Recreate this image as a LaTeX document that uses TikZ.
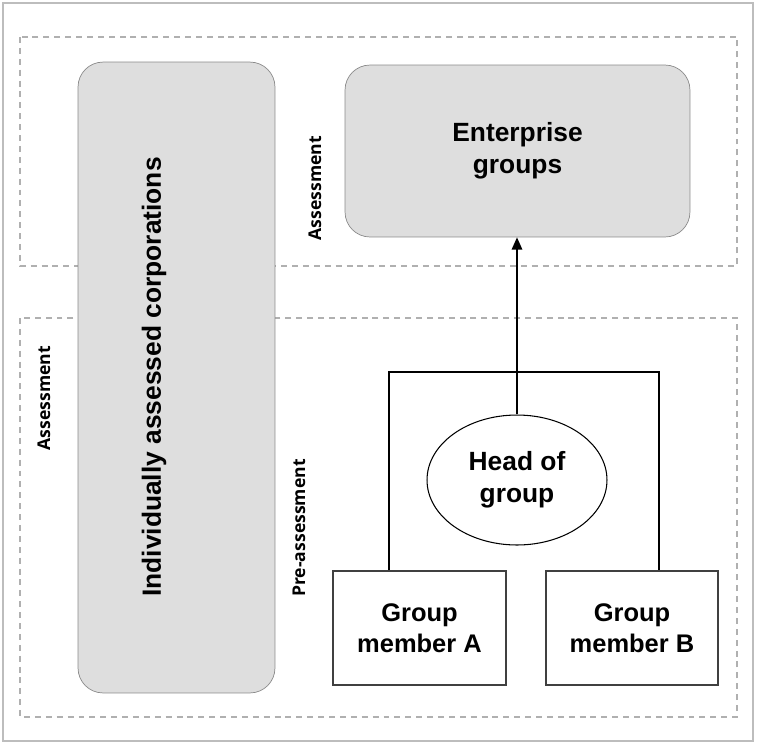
\documentclass[tikz,border=0pt]{standalone}
\usepackage{fontspec}
\setmainfont{Liberation Sans}
\newfontfamily\tagfont{Open Sans}
\usetikzlibrary{shapes.geometric}
\usetikzlibrary{arrows.meta}
\definecolor{framegray}{HTML}{BDBDBD}
\definecolor{dashgray}{HTML}{B0B0B0}
\definecolor{boxgray}{HTML}{DEDEDE}
\definecolor{edgegray}{HTML}{8A8A8A}

\begin{document}
\begin{tikzpicture}[x = 0.02cm, y = -0.02cm,
    zone/.style = {draw = dashgray, line width = 1.2pt, dash pattern = on 3.4pt off 2.8pt},
    tag/.style = {rotate = 90, inner sep = 0pt, font = \tagfont\bfseries\fontsize{10}{12}\selectfont},
    softbox/.style = {draw = edgegray, fill = boxgray, rounded corners = 0.5cm, align = center,
      font = \bfseries\fontsize{15}{18}\selectfont},
    memberbox/.style = {draw = black!75, line width = 0.9pt, fill = white, align = center,
      minimum width = 3.45cm, minimum height = 2.28cm, font = \bfseries\fontsize{14.5}{17.5}\selectfont},
    link/.style = {black, line width = 0.8pt}]%

  \useasboundingbox (0, 0) rectangle (758, 745);
  \draw[framegray, line width = 1.4pt] (3, 3) rectangle (753, 741);

  % assessment and pre-assessment zones
  \draw[zone] (20, 37) rectangle (737, 266);
  \draw[zone] (20, 318) rectangle (737, 717);

  \node[softbox, minimum width = 3.94cm, minimum height = 12.62cm] (corporations) at (176.5, 377.5) {};
  \node[rotate = 90, font = \bfseries\fontsize{15}{18}\selectfont] (corporationstext) at (154, 377) {Individually assessed corporations};

  \node[softbox, minimum width = 6.9cm, minimum height = 3.44cm] (groups) at (517.5, 151) {Enterprise\\groups};

  \node[draw, ellipse, line width = 0.6pt, inner sep = 0pt, minimum width = 3.6cm, minimum height = 2.6cm,
    align = center, font = \bfseries\fontsize{15}{18}\selectfont] (head) at (517, 480) {Head of\\group};

  \node[memberbox] (memberA) at (419.5, 628) {Group\\member A};
  \node[memberbox] (memberB) at (632, 628) {Group\\member B};

  \coordinate (forkA) at (389, 372);
  \coordinate (forkB) at (659, 372);
  \draw[link] (memberA.north -| forkA) -- (forkA) -- (forkB) -- (memberB.north -| forkB);
  \draw[link, -{Triangle[length = 7pt, width = 6pt]}] (head.north) -- (head.north |- groups.south);

  \node[tag] (tagtop) at (315, 188) {Assessment};
  \node[tag] (tagleft) at (44, 398) {Assessment};
  \node[tag] (tagpre) at (299, 528) {Pre-assessment};
\end{tikzpicture}
\end{document}
